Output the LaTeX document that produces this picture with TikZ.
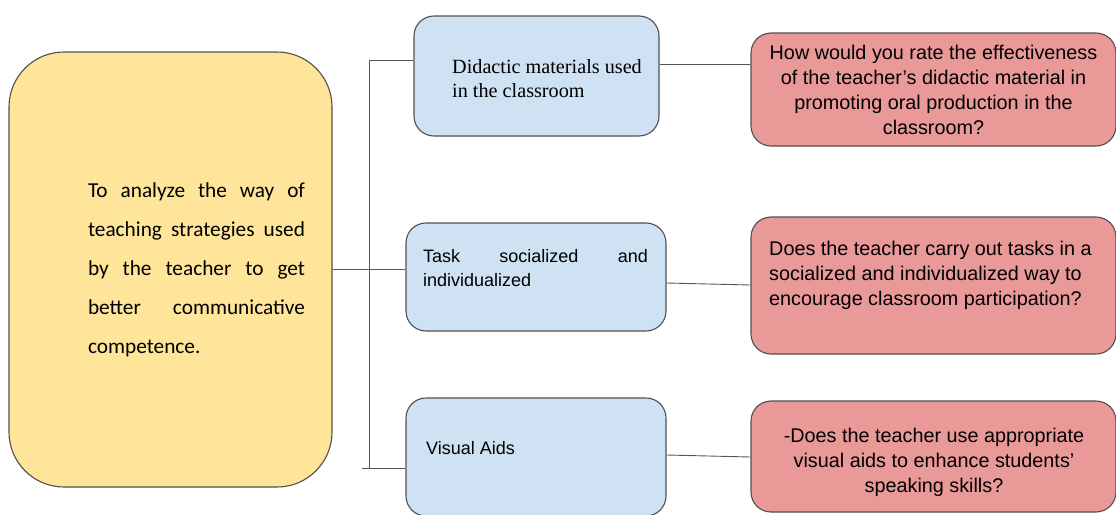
\documentclass[tikz,border=0pt]{standalone}
\usepackage{fontspec}
\setmainfont{Liberation Sans}
\newfontfamily\carlito{Carlito}
\newfontfamily\timesf{Liberation Serif}
\definecolor{yfill}{HTML}{FFE599}
\definecolor{bfill}{HTML}{CFE2F3}
\definecolor{rfill}{HTML}{EA9999}
\definecolor{edge}{HTML}{505050}
\definecolor{wire}{HTML}{555555}
\hyphenpenalty=10000
\exhyphenpenalty=10000
\tolerance=10000
\hbadness=10000
\newcommand\nohy{\hyphenpenalty=10000\relax\exhyphenpenalty=10000\relax\tolerance=10000\relax\hbadness=10000\relax}
\begin{document}
\begin{tikzpicture}[x=1pt,y=-1pt,
  box/.style={draw=edge,line width=1.1pt,inner sep=0pt},
  ybox/.style={box,fill=yfill,rounded corners=55pt},
  bbox/.style={box,fill=bfill,rounded corners=20pt},
  rbox/.style={box,fill=rfill,rounded corners=20pt},
  wirestyle/.style={draw=wire,line width=0.9pt},
  txt/.style={inner sep=0pt,font=\fontsize{19.8}{25}\selectfont}
]
\useasboundingbox (0,0) rectangle (1116,514);
% main goal box
\node[ybox,minimum width=323pt,minimum height=435pt] (goal) at (170.5,269.5) {};
\node[inner sep=0pt,text width=217pt,align=justify,
  font=\carlito\fontsize{21.3}{39}\selectfont] (goaltext) at (196.5,270)
 {\nohy To analyze the way of teaching strategies used by the teacher to get better communicative competence.\par};
% blue boxes
\node[bbox,minimum width=245pt,minimum height=120pt] (b1) at (536.5,76) {};
\node[bbox,minimum width=260pt,minimum height=108pt] (b2) at (536,277) {};
\node[bbox,minimum width=260pt,minimum height=118pt] (b3) at (536,457) {};
\node[txt,anchor=west,align=left,font=\timesf\fontsize{20.2}{24}\selectfont] (t1) at (452,79) {Didactic materials used\\in the classroom};
\node[txt,text width=225pt,align=justify,
  font=\fontsize{18}{23.5}\selectfont] (t2) at (535.5,268) {\nohy Task socialized and individualized\par};
\node[txt,anchor=west,font=\fontsize{18}{23}\selectfont] (t3) at (426,448) {Visual Aids};
% red boxes
\node[rbox,minimum width=365pt,minimum height=113pt,align=center,txt] (r1) at (933.5,89.5)
 {How would you rate the effectiveness\\of the teacher’s didactic material in\\promoting oral production in the\\classroom?};
\node[rbox,minimum width=365pt,minimum height=137pt] (r2) at (933.5,285.5) {};
\node[txt,anchor=west,align=left] (t5) at (769,275)
 {Does the teacher carry out tasks in a\\socialized and individualized way to\\encourage classroom participation?};
\node[rbox,minimum width=365pt,minimum height=111pt] (r3) at (933.5,456.5) {};
\node[txt,align=center] (t6) at (934,462)
 {-Does the teacher use appropriate\\visual aids to enhance students'\\speaking skills?};
% connectors
\coordinate (top) at (369,60);
\coordinate (mid) at (369,269);
\coordinate (bot) at (369,468);
\coordinate (botl) at (362,468);
\draw[wirestyle] (b1.west|-top) -- (top) -- (bot) -- (b3.west|-bot);
\draw[wirestyle] (botl) -- (bot);
\draw[wirestyle] (goal.east|-mid) -- (b2.west|-mid);
\draw[wirestyle] (b1.east|-0,64) -- (r1.west|-0,64);
\draw[wirestyle] (b2.east|-0,283) -- (r2.west|-0,285);
\draw[wirestyle] (b3.east|-0,455) -- (r3.west|-0,457);
\end{tikzpicture}
\end{document}
